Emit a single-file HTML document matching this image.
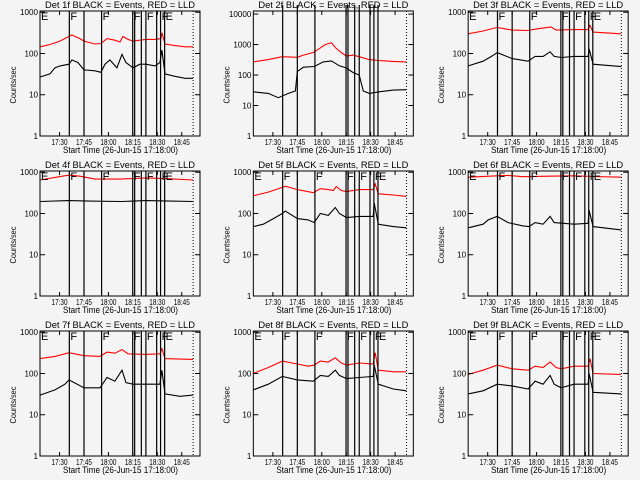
<!DOCTYPE html>
<html><head><meta charset="utf-8"><style>
html,body{margin:0;padding:0;background:#f4f4f4;}
svg{display:block;font-family:"Liberation Sans",sans-serif;}
</style></head><body>
<svg id="chart" width="640" height="480" viewBox="0 0 640 480" xmlns="http://www.w3.org/2000/svg">
<rect x="0" y="0" width="640" height="480" fill="#f4f4f4"/>
</svg>
<script>
// minutes since 17:18:00
const detNames = ["1f","2f","3f","4f","5f","6f","7f","8f","9f"];
const xTickLabels = ["17:30","17:45","18:00","18:15","18:30","18:45"];
const xTickMinutes = [12,27,42,57,72,87];
const eventLineMinutes = [18,27,37.8,56.9,58.1,62.2,65,71.6,74,76.5];
const eventLabels = ["E","F","F","F","F","F","E"];
const eventLabelMinutes = [0,18,37.8,56.9,65,74,76.5];
const dottedLineMinute = 94;

const t1 = [0,6.1,12.3,17.8,19.6,24.5,27,33.7,37.4,41.1,46,49.1,50.9,54,57.1,61.3,65,70.6,74.2,74.8,76.7,82.8,89,93.9];
const red1 = [145,165,200,260,280,230,200,170,175,230,210,190,260,220,200,210,220,220,230,320,170,155,145,145];
const tb1 = [0,6.1,9.2,12.3,17.8,19.6,23.3,27,33.7,37.4,39.9,42.9,47.2,50.3,52.8,57.1,61.3,65,70.6,73.6,74.8,76.7,82.8,89,93.9];
const black1 = [27,32,45,50,55,70,60,40,38,35,55,70,45,95,60,45,55,55,50,60,120,32,28,25,25];

const t2 = [0,9.2,17.8,27,30.7,36.8,39.9,44.2,47.9,50.3,54,57.1,61.3,65,71.2,76.7,85.9,93.9];
const red2 = [270,320,400,380,450,550,700,1000,1150,800,550,420,450,400,320,300,280,270];
const tb2 = [0,9.2,15.3,21.5,25.8,27,30.7,37.4,42.9,47.9,52.8,57.1,61.3,65,67.5,71.2,76.7,85.9,93.9];
const black2 = [28,25,18,25,30,130,180,190,270,290,200,170,120,100,30,25,28,32,33];

const t3 = [0,9.2,17.8,27,36.8,42.9,50.9,54,65,73.6,74.8,76.7,93.9];
const red3 = [300,350,430,370,360,400,440,370,380,380,480,330,300];
const tb3 = [0,9.2,15.3,17.8,27,36.8,41.1,46,50.3,52.8,57.1,65,73.6,74.2,76.7,93.9];
const black3 = [50,65,90,105,75,65,85,85,110,85,80,85,85,130,55,48];

const t4 = [0,9.2,17.8,24.5,33.7,49.1,65,76.7,93.9];
const red4 = [650,750,850,800,680,680,730,700,650];
const tb4 = [0,17.8,30,50,65,80,93.9];
const black4 = [195,205,200,195,205,200,195];

const t5 = [0,9.2,17.8,19.6,27,36.8,41.1,46,49.1,50.9,54,57.1,65,73.6,74.8,76.7,85.9,93.9];
const red5 = [270,330,430,460,380,320,400,380,360,450,360,340,380,380,520,300,280,260];
const tb5 = [0,6.1,12.3,17.8,19.6,27,33.7,37.4,41.1,46,50.3,52.8,57.1,65,73.6,74.2,76.7,85.9,93.9];
const black5 = [48,55,75,100,115,75,70,60,100,90,140,100,80,85,85,180,55,48,45];

const t6 = [0,17.8,24.5,33.7,49.1,65,76.7,93.9];
const red6 = [760,820,840,780,800,820,790,760];
const tb6 = [0,9.2,12.3,17.8,24.5,33.7,37.4,41.1,46,50.3,52.8,65,73.6,74.2,76.7,93.9];
const black6 = [45,55,70,85,60,50,48,60,55,85,60,55,58,120,48,40];

const t7 = [0,9.2,17.8,27,36.8,41.1,46,50.3,54,65,73.6,74.8,76.7,93.9];
const red7 = [230,260,320,270,260,330,310,380,300,290,300,400,230,220];
const tb7 = [0,9.2,15.3,17.8,27,36.8,41.1,46,50.3,52.8,57.1,65,73.6,74.8,76.7,85.9,93.9];
const black7 = [30,40,55,70,45,45,80,65,120,60,55,55,55,120,32,28,30];

const t8 = [0,9.2,17.8,27,33.7,37.4,41.1,46,50.3,54,57.1,65,73.6,74.8,76.7,85.9,93.9];
const red8 = [100,140,200,170,150,160,200,190,240,180,160,180,170,320,120,110,110];
const tb8 = [0,9.2,17.8,27,36.8,41.1,46,50.3,52.8,57.1,65,73.6,74.2,76.7,85.9,93.9];
const black8 = [40,55,85,70,65,90,85,120,90,75,80,85,160,55,42,38];

const t9 = [0,9.2,17.8,27,36.8,41.1,46,50.3,54,57.1,65,73.6,74.8,76.7,93.9];
const red9 = [95,120,160,130,120,150,140,190,140,130,150,150,230,100,95];
const tb9 = [0,9.2,17.8,27,36.8,41.1,46,50.3,52.8,57.1,65,73.6,74.2,76.7,93.9];
const black9 = [32,38,55,50,42,65,55,90,55,45,55,55,100,35,32];

const redTimes = [t1,t2,t3,t4,t5,t6,t7,t8,t9];
const redVals = [red1,red2,red3,red4,red5,red6,red7,red8,red9];
const blackTimes = [tb1,tb2,tb3,tb4,tb5,tb6,tb7,tb8,tb9];
const blackVals = [black1,black2,black3,black4,black5,black6,black7,black8,black9];
const yMaxDecade = [3,4,3,3,3,3,3,3,3];

const NS = "http://www.w3.org/2000/svg";
const svg = document.getElementById("chart");
function mk(tag, attrs, parent){const e=document.createElementNS(NS,tag);for(const k in attrs)e.setAttribute(k,attrs[k]);(parent||svg).appendChild(e);return e;}

for(let p=0;p<9;p++){
  const col=p%3,row=Math.floor(p/3);
  const ox=col*213.33+(col===2?1.5:0), oy=row*160;
  const L=ox+40,R=ox+200,T=oy+11,B=oy+136;
  const tMax=98.2;
  const logMax = yMaxDecade[p]===4 ? 4.1 : 3.03;
  const xs = m => L + m/tMax*(R-L);
  const ys = v => B - Math.log10(v)/logMax*(B-T);
  const g = mk("g",{});
  
  

  const title = mk("text",{x:ox+45,y:oy+8,"font-size":"9.5",textLength:"150",lengthAdjust:"spacingAndGlyphs",fill:"#000"},g);
  title.textContent = "Det "+detNames[p]+" BLACK = Events, RED = LLD";
  
  

  const rp = redTimes[p].map((m,i)=>xs(m).toFixed(1)+","+ys(redVals[p][i]).toFixed(1)).join(" ");
  const rl = mk("polyline",{points:rp,fill:"none",stroke:"#ff0000","stroke-width":"1.1"},g);
  
  
  const bp = blackTimes[p].map((m,i)=>xs(m).toFixed(1)+","+ys(blackVals[p][i]).toFixed(1)).join(" ");
  const bl = mk("polyline",{points:bp,fill:"none",stroke:"#000","stroke-width":"1.1"},g);
  
  

  const topExt = yMaxDecade[p]===4 ? oy+5 : T;
  eventLineMinutes.forEach(m=>{
    const l = mk("line",{x1:xs(m),x2:xs(m),y1:topExt,y2:B,stroke:"#000","stroke-width":"1.2"},g);
    
    
  });
  const dl = mk("line",{x1:xs(dottedLineMinute),x2:xs(dottedLineMinute),y1:T,y2:B,stroke:"#000","stroke-width":"1","stroke-dasharray":"1,2"},g);
  
  
  if(yMaxDecade[p]!==4){
    eventLabels.forEach((s,i)=>{
      const t = mk("text",{x:xs(eventLabelMinutes[i])+1,y:T+9,"font-size":"11",fill:"#000"},g);
      t.textContent=s;
      
      
    });
  }

  const box = mk("rect",{x:L,y:T,width:R-L,height:B-T,fill:"none",stroke:"#000","stroke-width":"1"},g);
  
  

  for(let d=0; d<=yMaxDecade[p]; d++){
    const y = ys(Math.pow(10,d));
    mk("line",{x1:L,x2:L+5,y1:y,y2:y,stroke:"#000"},g);
    mk("line",{x1:R-5,x2:R,y1:y,y2:y,stroke:"#000"},g);
    const s = String(Math.pow(10,d));
    const t = mk("text",{x:L-2,y:y+3,"font-size":"8.5","text-anchor":"end",textLength:String(s.length*4.5),lengthAdjust:"spacingAndGlyphs",fill:"#000"},g);
    t.textContent = s;
    
    
  }
  xTickMinutes.forEach((m,i)=>{
    const x=xs(m);
    mk("line",{x1:x,x2:x,y1:B,y2:B-4,stroke:"#000"},g);
    mk("line",{x1:x,x2:x,y1:T,y2:T+4,stroke:"#000"},g);
    const t = mk("text",{x:x-8,y:B+9,"font-size":"8.5",textLength:"16",lengthAdjust:"spacingAndGlyphs",fill:"#000"},g);
    t.textContent = xTickLabels[i];
    
    
  });
  const xt = mk("text",{x:ox+63,y:B+17,"font-size":"9",textLength:"115",lengthAdjust:"spacingAndGlyphs",fill:"#000"},g);
  xt.textContent = "Start Time (26-Jun-15 17:18:00)";
  
  
  const yt = mk("text",{x:0,y:0,"font-size":"8","text-anchor":"middle",textLength:"37",lengthAdjust:"spacingAndGlyphs",fill:"#000",transform:"translate("+(ox+16)+","+(oy+85)+") rotate(-90)"},g);
  yt.textContent = "Counts/sec";
  
  
}
</script>
</body></html>
